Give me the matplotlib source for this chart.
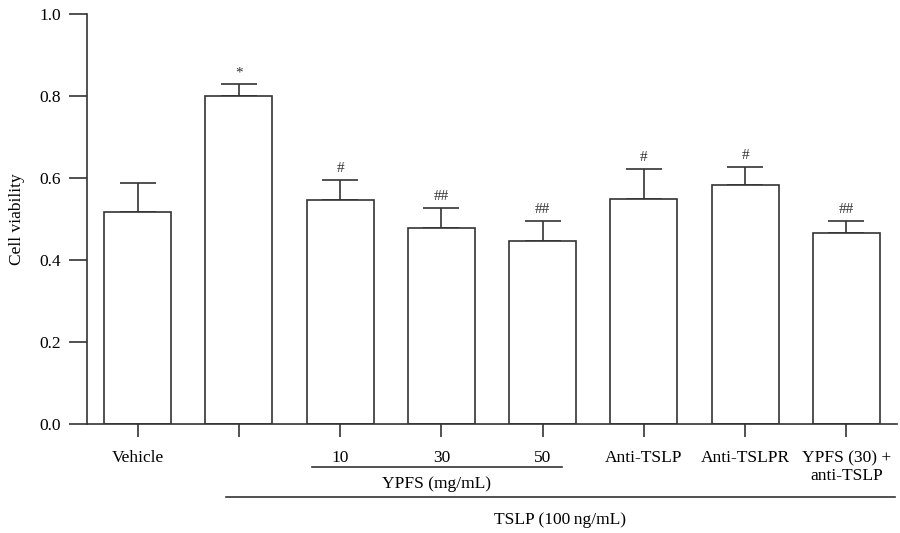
import numpy as np
import matplotlib.pyplot as plt

# данные
groups = ["Vehicle", "", "10", "30", "50", "Anti-TSLP", "Anti-TSLPR", "YPFS (30) +\nanti-TSLP"]
viability = [0.517, 0.800, 0.546, 0.478, 0.446, 0.549, 0.583, 0.466]
sd = [0.071, 0.029, 0.049, 0.049, 0.049, 0.073, 0.044, 0.029]
marks = ["", "*", "#", "##", "##", "#", "#", "##"]

plt.rcParams['font.family'] = ['Liberation Serif', 'DejaVu Serif']
col = '#333333'
fs = 12.5

fig = plt.figure(figsize=(9, 5.33), dpi=100)
ax = fig.add_axes([0.0967, 0.2045, 0.9, 0.7692])

x = np.arange(len(groups))
ax.bar(x, viability, width=0.66, color='white', edgecolor=col, linewidth=1.2, zorder=2)
ax.errorbar(x, viability, yerr=[np.zeros(len(sd)), sd], fmt='none', ecolor=col,
            elinewidth=1.2, capsize=13, capthick=1.2, zorder=1)

for xi, v, e, m in zip(x, viability, sd, marks):
    if m:
        ax.text(xi, v + e + 0.012, m, ha='center', va='bottom', fontsize=11, color=col)

ax.set_xlim(-0.5, 7.5)
ax.set_ylim(0, 1.0)
ax.set_yticks([0.0, 0.2, 0.4, 0.6, 0.8, 1.0])
ax.set_yticklabels(["0.0", "0.2", "0.4", "0.6", "0.8", "1.0"])
ax.set_xticks(x)
ax.set_xticklabels(groups, fontsize=fs, linespacing=1.1)
ax.tick_params(axis='y', length=13, width=1.2, color=col, labelsize=fs, pad=6)
ax.tick_params(axis='x', length=9, width=1.2, color=col, pad=10)
ax.set_ylabel("Cell viability", fontsize=fs, labelpad=10)

for s in ['top', 'right']:
    ax.spines[s].set_visible(False)
for s in ['left', 'bottom']:
    ax.spines[s].set_color(col)
    ax.spines[s].set_linewidth(1.2)

# подписи групп
tr = ax.get_xaxis_transform()
ax.plot([1.72, 4.19], [-0.105, -0.105], transform=tr, color=col, lw=1.2, clip_on=False)
ax.text(2.95, -0.147, "YPFS (mg/mL)", transform=tr, ha='center', va='center', fontsize=fs)
ax.plot([0.87, 7.48], [-0.178, -0.178], transform=tr, color=col, lw=1.2, clip_on=False)
ax.text(4.17, -0.235, "TSLP (100\u2009ng/mL)", transform=tr, ha='center', va='center', fontsize=fs)

fig.savefig("out.png", dpi=100)
